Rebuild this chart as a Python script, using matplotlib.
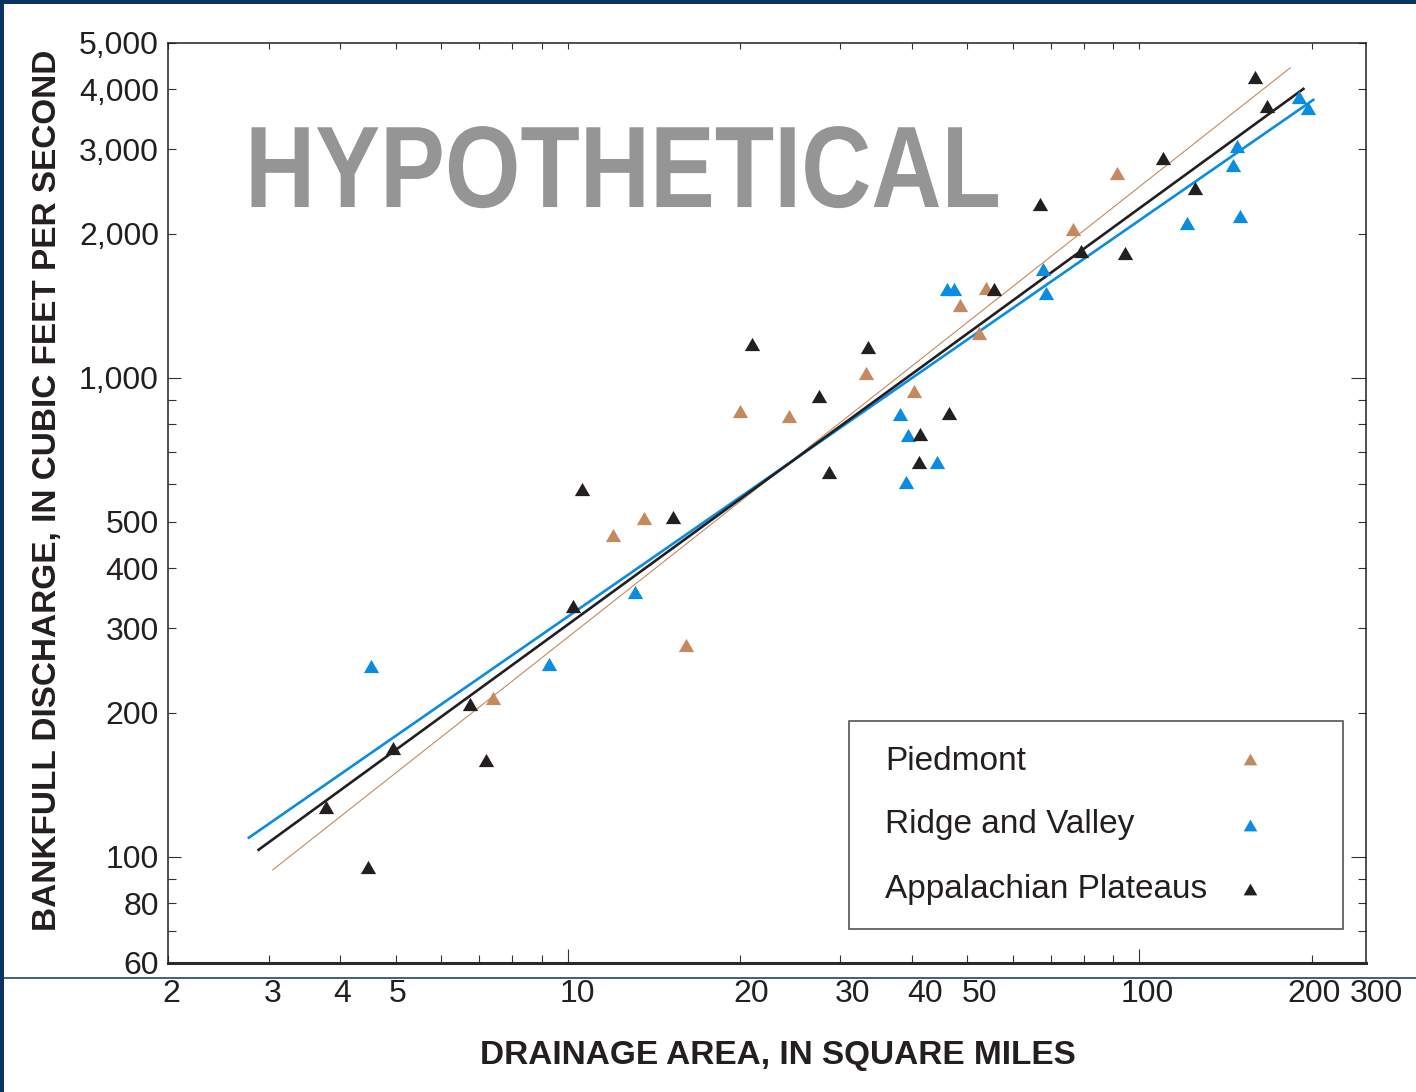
import matplotlib
matplotlib.use("Agg")
import matplotlib.pyplot as plt
from matplotlib.transforms import ScaledTranslation, Affine2D
from matplotlib.patches import Rectangle
from matplotlib.lines import Line2D
from matplotlib.patheffects import AbstractPathEffect

plt.rcParams['font.family'] = ['Liberation Sans', 'DejaVu Sans']

# ---------------- data ----------------
series_names = ["Piedmont", "Ridge and Valley", "Appalachian Plateaus"]

piedmont_area = [7.39, 12.0, 13.6, 16.1, 20.0, 24.4, 33.3, 40.3, 48.6, 52.5, 54.0, 76.4, 91.5]
piedmont_q = [215, 470, 510, 277, 853, 833, 1024, 939, 1420, 1241, 1541, 2047, 2679]

ridge_area = [4.53, 9.26, 13.1, 38.1, 39.0, 39.3, 44.2, 46.0, 47.3, 67.9, 68.5,
              121, 146, 148, 150, 190, 197]
ridge_q = [250, 253, 357, 841, 607, 760, 668, 1534, 1534, 1689, 1505,
           2107, 2784, 3050, 2180, 3860, 3662]

plateau_area = [3.78, 4.47, 4.94, 6.74, 7.19, 10.2, 10.6, 15.3, 21.0, 27.5, 28.7, 33.5,
                41.4, 41.1, 46.5, 55.6, 66.9, 78.9, 94.2, 110, 125, 159, 167]
plateau_q = [127, 95, 169, 208, 159, 334, 586, 513, 1178, 917, 636, 1161,
             764, 668, 845, 1534, 2308, 1841, 1824, 2879, 2493, 4250, 3698]

# regression lines (end points)
piedmont_fit_area = [3.05, 183.6]
piedmont_fit_q = [93.9, 4439]
ridge_fit_area = [2.77, 201.4]
ridge_fit_q = [109.6, 3805]
plateau_fit_area = [2.88, 193.5]
plateau_fit_q = [103.4, 4010]

x_ticks = [2, 3, 4, 5, 10, 20, 30, 40, 50, 100, 200]
x_tick_labels = ["2", "3", "4", "5", "10", "20", "30", "40", "50", "100", "200"]
x_extra_label = "300"
x_minor = [6, 7, 8, 9, 60, 70, 80, 90]
y_ticks = [60, 80, 100, 200, 300, 400, 500, 1000, 2000, 3000, 4000, 5000]
y_tick_labels = ["60", "80", "100", "200", "300", "400", "500",
                 "1,000", "2,000", "3,000", "4,000", "5,000"]
y_minor = [70, 90, 600, 700, 800, 900]

# ---------------- style ----------------
C_BROWN = "#c4895e"
C_BLUE = "#0a8ce0"
C_BLACK = "#231f20"
NAVY = "#0b3463"
TXT = "#231f20"
TRI = [(-1, -0.866), (1, -0.866), (0, 0.866)]


class CondenseX(AbstractPathEffect):
    """Squeeze a text horizontally around its anchor (text stays a Text)."""

    def __init__(self, text_getter, sx):
        super().__init__()
        self._get = text_getter
        self._sx = sx

    def draw_path(self, renderer, gc, tpath, affine, rgbFace=None):
        t = self._get()
        x0 = t.get_transform().transform(t.get_position())[0]
        squeeze = Affine2D().translate(-x0, 0).scale(self._sx, 1).translate(x0, 0)
        renderer.draw_path(gc, tpath, affine + squeeze, rgbFace)


W, H = 1416, 1092
fig = plt.figure(figsize=(W / 100, H / 100), dpi=100)
fig.patch.set_facecolor("white")
L, R, T, B = 168, 1366, 43, 963
ax = fig.add_axes([L / W, 1 - B / H, (R - L) / W, (B - T) / H])
ax.set_xscale("log")
ax.set_yscale("log")
ax.set_xlim(2, 249)
ax.set_ylim(60, 5000)

# fit lines
ax.plot(piedmont_fit_area, piedmont_fit_q, color=C_BROWN, lw=0.8, zorder=2)
ax.plot(ridge_fit_area, ridge_fit_q, color=C_BLUE, lw=1.9, zorder=2)
ax.plot(plateau_fit_area, plateau_fit_q, color=C_BLACK, lw=1.9, zorder=3)

# points
for xs, ys, c in [(piedmont_area, piedmont_q, C_BROWN),
                  (ridge_area, ridge_q, C_BLUE),
                  (plateau_area, plateau_q, C_BLACK)]:
    ax.plot(xs, ys, linestyle="none", marker=TRI, markersize=11,
            markerfacecolor=c, markeredgewidth=0, zorder=4)

# spines
for s in ["left", "right", "top"]:
    ax.spines[s].set_color(C_BLACK)
    ax.spines[s].set_linewidth(1.1)
ax.spines["bottom"].set_color("#2a2a2a")
ax.spines["bottom"].set_linewidth(2.2)

# ticks
ax.tick_params(which="both", direction="in", top=True, right=True,
               width=0.8, length=5.5, color="#333333", labelcolor=TXT,
               labelsize=23)
ax.tick_params(axis="x", which="both", pad=11.5)
ax.tick_params(axis="y", which="both", pad=6.5)
ax.set_xticks(x_ticks, x_tick_labels)
ax.set_xticks(x_minor, [""] * len(x_minor), minor=True)
ax.set_yticks(y_ticks, y_tick_labels)
ax.set_yticks(y_minor, [""] * len(y_minor), minor=True)

# long decade ticks, shorter top ticks, label nudges as in the reference
x_label_shift_px = [3, 4, 2, 2, 10, 11, 12, 13, 12, 8, 2]
for tk, v, sh in zip(ax.xaxis.get_major_ticks(), x_ticks, x_label_shift_px):
    tk.tick2line.set_markersize(4)
    if v in (10, 100):
        tk.tick1line.set_markersize(10)
    tk.label1.set_transform(tk.label1.get_transform() +
                            ScaledTranslation(sh / 100, 0, fig.dpi_scale_trans))
for tk in ax.xaxis.get_minor_ticks():
    tk.tick2line.set_markersize(4)
for tk, v in zip(ax.yaxis.get_major_ticks(), y_ticks):
    if v in (100, 1000):
        tk.tick1line.set_markersize(9.5)
        tk.tick2line.set_markersize(10.5)

ax.annotate(x_extra_label, xy=(1, 0), xycoords="axes fraction",
            xytext=(7.2, -11.5), textcoords="offset points",
            ha="center", va="top", fontsize=23, color=TXT, annotation_clip=False)

# axis labels
ax.set_xlabel("DRAINAGE AREA, IN SQUARE MILES", fontsize=24, fontweight="bold", color=TXT)
ax.xaxis.set_label_coords(0.5088, -0.0835)
ax.set_ylabel("BANKFULL DISCHARGE, IN CUBIC FEET PER SECOND", fontsize=24,
              fontweight="bold", color=TXT)
ax.yaxis.set_label_coords(-0.088, 0.514)

# watermark (tightly set, as in the reference)
wm = ax.text(0.0643, 0.8217, "HYPOTHETICAL", transform=ax.transAxes, ha="left",
             va="baseline", fontsize=83.5, fontweight="bold", color="#959595",
             zorder=1)
wm.set_path_effects([CondenseX(lambda: wm, 0.838)])

# legend (text left, marker right)
ax.add_patch(Rectangle((0.5684, 0.0370), 0.4124, 0.2260, transform=ax.transAxes,
                       facecolor="white", edgecolor="#555555", lw=1.2, zorder=5))
leg_rows = [(series_names[0], C_BROWN, 0.2098, 0.2217),
            (series_names[1], C_BLUE, 0.1413, 0.1500),
            (series_names[2], C_BLACK, 0.0707, 0.0804)]
for name, c, yb, ym in leg_rows:
    ax.text(0.5985, yb, name, transform=ax.transAxes, ha="left", va="baseline",
            fontsize=24, color=TXT, zorder=6)
    ax.plot([0.9028], [ym], transform=ax.transAxes, linestyle="none", marker=TRI,
            markersize=9.8, markerfacecolor=c, markeredgewidth=0, zorder=6)

# navy frame
fig.add_artist(Rectangle((0, 1 - 4 / H), 1, 4 / H, transform=fig.transFigure,
                         facecolor=NAVY, edgecolor="none"))
fig.add_artist(Rectangle((0, 0), 4 / W, 1, transform=fig.transFigure,
                         facecolor=NAVY, edgecolor="none"))
fig.add_artist(Line2D([0, 1], [1 - 978 / H, 1 - 978 / H], transform=fig.transFigure,
                      color=NAVY, lw=1.1))

fig.savefig("out.png", dpi=100)
